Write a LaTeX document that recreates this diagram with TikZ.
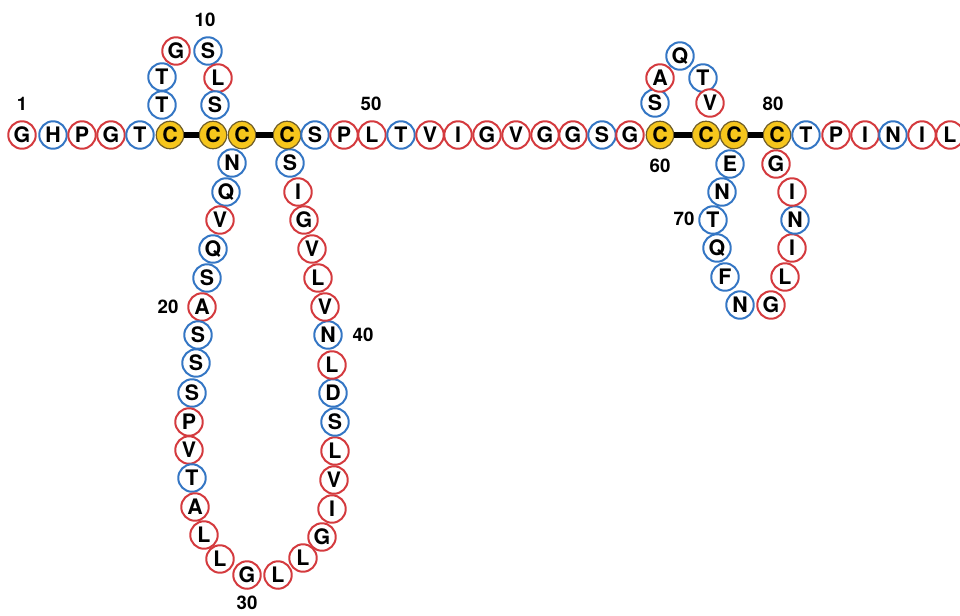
\documentclass[tikz,border=0pt]{standalone}
\usepackage{fontspec}
\newfontfamily\heros{TeX Gyre Heros}
\definecolor{resred}{RGB}{212,58,62}
\definecolor{resblue}{RGB}{52,118,196}
\definecolor{cysfill}{RGB}{246,198,28}
\definecolor{cysedge}{RGB}{110,92,40}
\begin{document}
\begin{tikzpicture}[x=0.75pt,y=-0.75pt,
  res/.style={circle,draw,line width=1.5pt,minimum size=20.6pt,inner sep=0pt,fill=white,
    font=\heros\bfseries\fontsize{16}{16}\selectfont},
  rr/.style={res,draw=resred},
  bb/.style={res,draw=resblue},
  cy/.style={res,draw=cysedge,fill=cysfill,line width=0.9pt},
  num/.style={font=\heros\bfseries\fontsize{14}{14}\selectfont,inner sep=0pt},
  bond/.style={line width=4pt,black}]
\useasboundingbox (0,0) rectangle (960,615);
% main row
\node[rr] (a1) at (22,135) {G};
\node[bb] (a2) at (53,135) {H};
\node[rr] (a3) at (82,135) {P};
\node[rr] (a4) at (111,135) {G};
\node[bb] (a5) at (140,135) {T};
\node[cy] (a6) at (170,135) {C};
% loop 1 top
\node[bb] (a7) at (162,105) {T};
\node[bb] (a8) at (162,77) {T};
\node[rr] (a9) at (176,51) {G};
\node[bb] (a10) at (208,51) {S};
\node[rr] (a11) at (218,78) {L};
\node[bb] (a12) at (215,105) {S};
\node[cy] (a13) at (213,135) {C};
\node[cy] (a14) at (242,135) {C};
% long loop left side
\node[bb] (a15) at (232,163) {N};
\node[bb] (a16) at (226,192) {Q};
\node[rr] (a17) at (220,220) {V};
\node[bb] (a18) at (213,249) {Q};
\node[bb] (a19) at (207,278) {S};
\node[rr] (a20) at (202,307) {A};
\node[bb] (a21) at (198,335) {S};
\node[bb] (a22) at (196,363) {S};
\node[bb] (a23) at (192,393) {S};
\node[rr] (a24) at (189,422) {P};
\node[rr] (a25) at (189,450) {V};
\node[bb] (a26) at (192,478) {T};
\node[rr] (a27) at (195,507) {A};
\node[rr] (a28) at (204,535) {L};
\node[rr] (a29) at (220,559) {L};
\node[rr] (a30) at (247,575) {G};
\node[rr] (a31) at (278,575) {L};
\node[rr] (a32) at (303,558) {L};
\node[rr] (a33) at (322,537) {G};
\node[rr] (a34) at (332,509) {I};
\node[rr] (a35) at (334,480) {V};
\node[rr] (a36) at (335,451) {L};
\node[bb] (a37) at (335,422) {S};
\node[bb] (a38) at (333,393) {D};
\node[rr] (a39) at (332,365) {L};
\node[bb] (a40) at (328,335) {N};
\node[rr] (a41) at (325,307) {V};
\node[rr] (a42) at (318,278) {L};
\node[rr] (a43) at (312,249) {V};
\node[rr] (a44) at (304,220) {G};
\node[rr] (a45) at (298,192) {I};
\node[bb] (a46) at (290,163) {S};
\node[cy] (a47) at (287,135) {C};
% main row continued
\node[bb] (a48) at (315,135) {S};
\node[rr] (a49) at (344,135) {P};
\node[rr] (a50) at (372,135) {L};
\node[bb] (a51) at (401,135) {T};
\node[rr] (a52) at (430,135) {V};
\node[rr] (a53) at (458,135) {I};
\node[rr] (a54) at (487,135) {G};
\node[rr] (a55) at (516,135) {V};
\node[rr] (a56) at (545,135) {G};
\node[rr] (a57) at (573,135) {G};
\node[bb] (a58) at (602,135) {S};
\node[rr] (a59) at (630,135) {G};
\node[cy] (a60) at (660,135) {C};
% loop 2 top
\node[bb] (a61) at (655,103) {S};
\node[rr] (a62) at (660,78) {A};
\node[bb] (a63) at (680,56) {Q};
\node[bb] (a64) at (703,78) {T};
\node[rr] (a65) at (710,103) {V};
\node[cy] (a66) at (706,135) {C};
\node[cy] (a67) at (734,135) {C};
% loop 2 bottom
\node[bb] (a68) at (730,164) {E};
\node[bb] (a69) at (722,192) {N};
\node[bb] (a70) at (713,220) {T};
\node[bb] (a71) at (717,248) {Q};
\node[bb] (a72) at (725,277) {F};
\node[bb] (a73) at (740,305) {N};
\node[rr] (a74) at (771,305) {G};
\node[rr] (a75) at (785,277) {L};
\node[rr] (a76) at (792,248) {I};
\node[bb] (a77) at (795,220) {N};
\node[rr] (a78) at (792,192) {I};
\node[rr] (a79) at (776,164) {G};
\node[cy] (a80) at (777,135) {C};
% tail
\node[bb] (a81) at (806,135) {T};
\node[rr] (a82) at (836,135) {P};
\node[rr] (a83) at (865,135) {I};
\node[bb] (a84) at (893,135) {N};
\node[rr] (a85) at (922,135) {I};
\node[rr] (a86) at (950,135) {L};
% disulfide bonds
\draw[bond] (a6) -- (a13);
\draw[bond] (a14) -- (a47);
\draw[bond] (a60) -- (a66);
\draw[bond] (a67) -- (a80);
% numbering
\node[num] (n1) at (22,104) {1};
\node[num] (n10) at (205,20) {10};
\node[num] (n20) at (168,307) {20};
\node[num] (n30) at (247,603) {30};
\node[num] (n40) at (363,335) {40};
\node[num] (n50) at (371,104) {50};
\node[num] (n60) at (660,166) {60};
\node[num] (n70) at (684,219) {70};
\node[num] (n80) at (773,104) {80};
\end{tikzpicture}
\end{document}
